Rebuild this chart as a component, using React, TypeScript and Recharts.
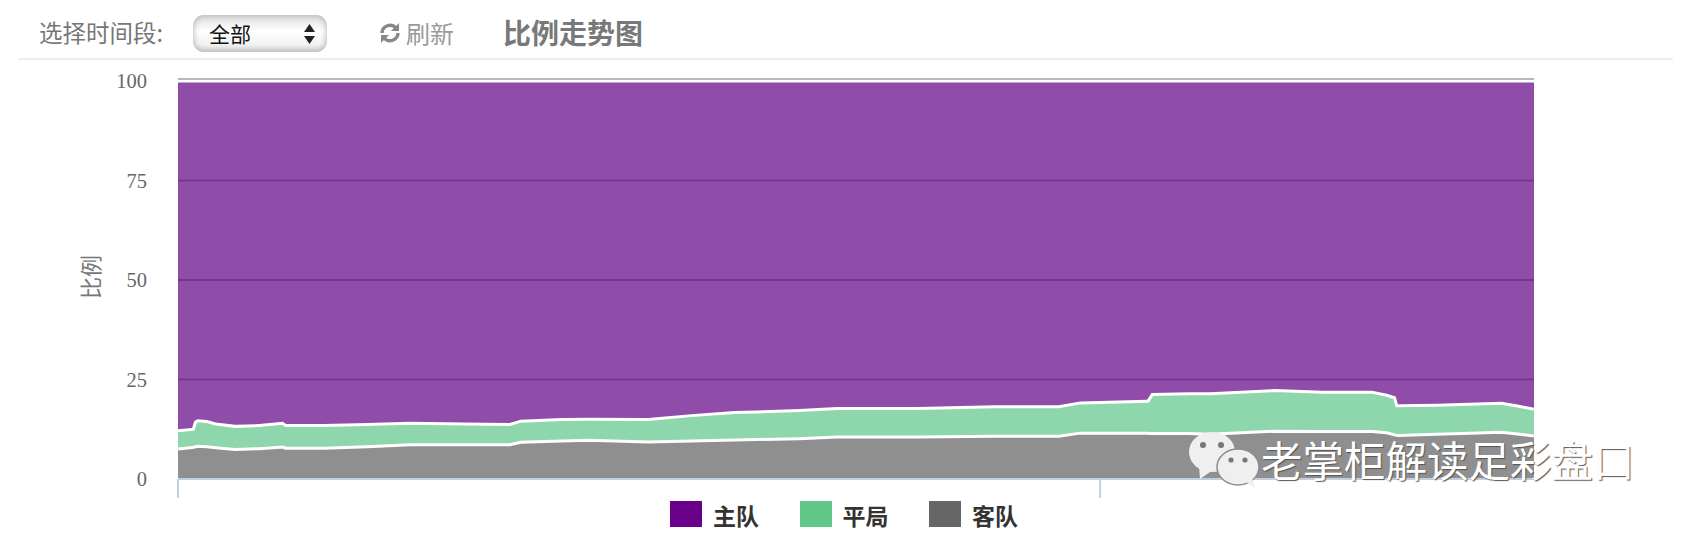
import React from "react";
import { AreaChart, Area, XAxis, YAxis, CartesianGrid, Legend } from "recharts";

// ---- Data ------------------------------------------------------------------
const timeline = [
  0, 1.04, 1.2, 1.43, 2.15, 2.79, 4.22, 5.98, 7.73, 7.97, 10.76, 13.94, 17.13, 21.12,
  24.46, 25.26, 28.29, 30.28, 34.66, 37.85, 41.04, 42.63, 45.82, 48.6, 54.58, 60.16,
  64.94, 66.53, 71.47, 71.79, 74.5, 76.1, 80.88, 84.46, 88.05, 89.16, 89.8, 89.96,
  92.83, 97.61, 98.8, 100,
];
const awayShare = [
  7.9, 8.3, 8.4, 8.6, 8.5, 8.2, 7.8, 8.0, 8.4, 8.1, 8.1, 8.5, 9.0, 9.0,
  9.0, 9.6, 9.9, 10.1, 9.7, 9.9, 10.2, 10.3, 10.5, 10.9, 10.9, 11.1,
  11.1, 11.9, 11.9, 11.8, 11.8, 11.6, 12.4, 12.3, 12.3, 12.0, 11.4, 11.3,
  11.6, 12.1, 11.7, 11.2,
];
const drawShare = [
  4.6, 4.5, 6.2, 6.4, 6.3, 6.0, 5.8, 5.8, 6.0, 5.7, 5.7, 5.6, 5.4, 5.2,
  5.1, 5.3, 5.4, 5.3, 5.6, 6.4, 6.9, 6.9, 7.1, 7.2, 7.2, 7.4,
  7.4, 7.6, 8.0, 9.8, 10, 10.2, 10.2, 9.9, 9.9, 9.4, 9.3, 7.5,
  7.3, 7.3, 7.0, 6.7,
];
const homeShare = [
  87.5, 87.2, 85.4, 85.0, 85.2, 85.8, 86.4, 86.2, 85.6, 86.2, 86.2, 85.9, 85.6, 85.8,
  85.9, 85.1, 84.7, 84.6, 84.7, 83.7, 82.9, 82.8, 82.4, 81.9, 81.9, 81.5,
  81.5, 80.5, 80.1, 78.4, 78.2, 78.2, 77.4, 77.8, 77.8, 78.6, 79.3, 81.2,
  81.1, 80.6, 81.3, 82.1,
];
const yTicks = [0, 25, 50, 75, 100];
const xTicks = [0, 68];

const HOME = "#6a008a";
const DRAW = "#62c68a";
const AWAY = "#666666";
const legendItems = [
  { name: "主队", color: HOME },
  { name: "平局", color: DRAW },
  { name: "客队", color: AWAY },
];

const chartData = timeline.map((t, i) => ({
  t,
  away: awayShare[i],
  draw: drawShare[i],
  home: homeShare[i],
}));

const SANS = '"Noto Sans CJK SC", "Noto Sans", sans-serif';
const SERIF = '"Liberation Serif", "Noto Sans CJK SC", serif';

const at = (left: number, top: number): React.CSSProperties => ({
  position: "absolute",
  left,
  top,
  whiteSpace: "nowrap",
  lineHeight: 1,
});

// ---- Legend ----------------------------------------------------------------
const ChartLegend = () => (
  <div style={{ position: "relative", width: 1694, height: 36 }}>
    {legendItems.map((item, i) => (
      <React.Fragment key={item.name}>
        <div style={{ ...at(670 + i * 129.5, 1), width: 32, height: 26, background: item.color }} />
        <div
          style={{
            ...at(713 + i * 129.5, 4),
            fontFamily: SANS,
            fontWeight: 700,
            fontSize: 23,
            color: "#333",
          }}
        >
          {item.name}
        </div>
      </React.Fragment>
    ))}
  </div>
);

// ---- Toolbar above the chart -----------------------------------------------
const Toolbar = () => (
  <>
    <div style={{ ...at(39, 21), fontFamily: SANS, fontSize: 23.5, color: "#777" }}>选择时间段:</div>
    <div
      style={{
        ...at(193, 15),
        width: 134,
        height: 37,
        borderRadius: 11,
        background: "linear-gradient(#dedede, #ffffff 45%, #f2f2f2 80%, #d8d8d8)",
        boxShadow: "inset 0 0 6px #aaa",
      }}
    />
    <div style={{ ...at(209, 23), fontFamily: SANS, fontSize: 21, color: "#111" }}>全部</div>
    <svg style={at(303, 23)} width={13} height={23}>
      <path d="M6.5 1 L12 9 L1 9 Z M1 13 L12 13 L6.5 21 Z" fill="#222" />
    </svg>
    <svg style={at(379, 22)} width={22} height={22} viewBox="0 0 22 22">
      <path
        d="M3 11 A8 8 0 0 1 17 6 M19 11 A8 8 0 0 1 5 16"
        fill="none"
        stroke="#888"
        strokeWidth={3.4}
      />
      <path d="M20 1 L20 9 L12 9 Z M2 21 L2 13 L10 13 Z" fill="#888" />
    </svg>
    <div style={{ ...at(406, 21), fontFamily: SANS, fontSize: 24, color: "#999" }}>刷新</div>
    <div style={{ ...at(503, 18), fontFamily: SANS, fontWeight: 700, fontSize: 28, color: "#787878" }}>
      比例走势图
    </div>
    <div style={{ ...at(18, 58), width: 1655, height: 2, background: "#eeeeee" }} />
  </>
);

// ---- Watermark -------------------------------------------------------------
const Watermark = () => (
  <>
    <svg style={at(1188, 430)} width={72} height={58} viewBox="0 0 72 58">
      <ellipse cx={24} cy={22} rx={23} ry={20} fill="#efefef" />
      <path d="M11 36 L12 49 L25 40 Z" fill="#efefef" />
      <ellipse cx={50} cy={37} rx={21} ry={18} fill="#efefef" stroke="#8c8c8c" strokeWidth={1.5} />
      <path d="M58 52 L67 58 L64 48 Z" fill="#efefef" />
      <circle cx={15} cy={15} r={3} fill="#777" />
      <circle cx={33} cy={15} r={3} fill="#777" />
      <circle cx={43} cy={30} r={2.6} fill="#777" />
      <circle cx={57} cy={30} r={2.6} fill="#777" />
    </svg>
    <div
      style={{
        ...at(1261, 439),
        fontFamily: SANS,
        fontSize: 41.5,
        color: "#ffffff",
        textShadow: "1px 1px 1px #555",
      }}
    >
      老掌柜解读足彩盘口
    </div>
  </>
);

// ---- Component -------------------------------------------------------------
const App: React.FC = () => (
  <div style={{ position: "absolute", left: 0, top: 0, width: 1694, height: 536, overflow: "hidden" }}>
    <Toolbar />
    <div style={{ position: "absolute", left: 0, top: 0 }}>
      <AreaChart
        width={1694}
        height={536}
        data={chartData}
        margin={{ top: 81, right: 160, left: 88, bottom: 0 }}
      >
        <CartesianGrid vertical={false} stroke="#b0b0b0" strokeWidth={2} />
        <XAxis
          dataKey="t"
          type="number"
          domain={[0, 100]}
          ticks={xTicks}
          height={21}
          tickFormatter={() => ""}
          stroke="#c0d0e0"
          axisLine={{ stroke: "#c0d0e0", strokeWidth: 2 }}
          tickLine={{ stroke: "#c0d0e0", strokeWidth: 2 }}
          tickSize={19}
        />
        <YAxis
          type="number"
          domain={[0, 100]}
          ticks={yTicks}
          width={90}
          axisLine={false}
          tickLine={false}
          tickMargin={25}
          tick={{ fontFamily: SERIF, fontSize: 20.5, fill: "#666" }}
          label={{
            value: "比例",
            angle: -90,
            position: "insideLeft",
            offset: 3,
            dy: -3,
            style: { fontFamily: SANS, fontSize: 22, fill: "#777", textAnchor: "middle" },
          }}
        />
        <Legend
          verticalAlign="bottom"
          height={36}
          wrapperStyle={{ left: 0, bottom: 0, width: 1694 }}
          content={() => <ChartLegend />}
        />
        {/* later areas paint over the upper half of the line below them */}
        <Area
          dataKey="away"
          stackId="share"
          type="linear"
          stroke="#ffffff"
          strokeWidth={6}
          fill={AWAY}
          fillOpacity={0.73}
          isAnimationActive={false}
        />
        <Area
          dataKey="draw"
          stackId="share"
          type="linear"
          stroke="#ffffff"
          strokeWidth={6}
          fill={DRAW}
          fillOpacity={0.72}
          isAnimationActive={false}
        />
        <Area
          dataKey="home"
          stackId="share"
          type="linear"
          stroke="#ffffff"
          strokeWidth={3}
          fill="#5f0083"
          fillOpacity={0.7}
          isAnimationActive={false}
        />
      </AreaChart>
    </div>
    <div style={{ ...at(178, 78), width: 1356, height: 2, background: "#b8b8b8" }} />
    <Watermark />
  </div>
);

export default App;
